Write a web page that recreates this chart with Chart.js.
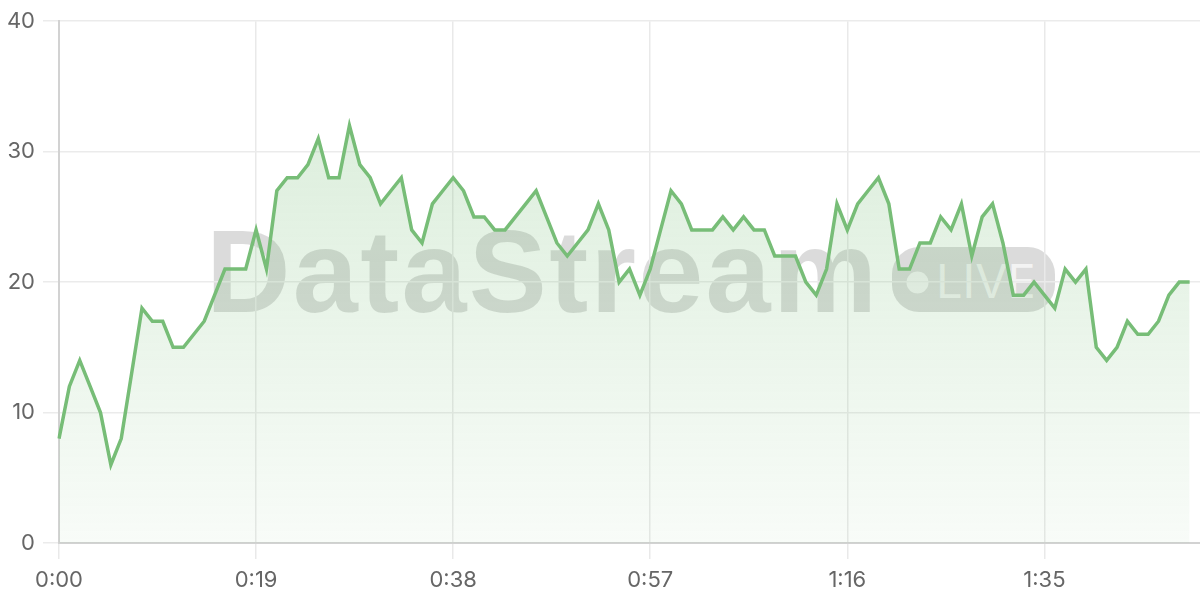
<!DOCTYPE html>
<html>
<head>
<meta charset="utf-8">
<script src="https://cdn.jsdelivr.net/npm/chart.js@4/dist/chart.umd.min.js"></script>
<style>
  html, body { margin: 0; padding: 0; background: #ffffff; }
  #wrap { position: relative; width: 1200px; height: 600px; }
  #wm { position: absolute; left: 0; top: 0; width: 1200px; height: 600px; }
  #c { position: absolute; left: 0; top: 0; }
</style>
</head>
<body>
<div id="wrap">
  <svg id="wm" width="1200" height="600" xmlns="http://www.w3.org/2000/svg">
    <text x="206" y="312" font-family="Liberation Sans, Arial, sans-serif" font-weight="bold" font-size="117" letter-spacing="2.3" fill="rgba(0,0,0,0.14)">DataStream</text>
    <rect x="892" y="247" width="163" height="65" rx="27" ry="27" fill="rgba(0,0,0,0.14)"/>
    <circle cx="917.5" cy="282.5" r="11" fill="rgba(255,255,255,0.7)"/>
    <text x="936" y="298" font-family="Inter, sans-serif" font-weight="400" font-size="47" fill="rgba(255,255,255,0.7)">LIVE</text>
  </svg>
  <canvas id="c" width="1200" height="600"></canvas>
</div>
<script>
// Elapsed seconds shown as m:ss on the x axis (0..110)
const timeLabels = [
  "0:00","0:01","0:02","0:03","0:04","0:05","0:06","0:07","0:08","0:09",
  "0:10","0:11","0:12","0:13","0:14","0:15","0:16","0:17","0:18","0:19",
  "0:20","0:21","0:22","0:23","0:24","0:25","0:26","0:27","0:28","0:29",
  "0:30","0:31","0:32","0:33","0:34","0:35","0:36","0:37","0:38","0:39",
  "0:40","0:41","0:42","0:43","0:44","0:45","0:46","0:47","0:48","0:49",
  "0:50","0:51","0:52","0:53","0:54","0:55","0:56","0:57","0:58","0:59",
  "1:00","1:01","1:02","1:03","1:04","1:05","1:06","1:07","1:08","1:09",
  "1:10","1:11","1:12","1:13","1:14","1:15","1:16","1:17","1:18","1:19",
  "1:20","1:21","1:22","1:23","1:24","1:25","1:26","1:27","1:28","1:29",
  "1:30","1:31","1:32","1:33","1:34","1:35","1:36","1:37","1:38","1:39",
  "1:40","1:41","1:42","1:43","1:44","1:45","1:46","1:47","1:48","1:49",
  "1:50"
];

// Series values, one per second
const streamValues = [
  8,12,14,12,10,6,8,13,18,17,
  17,15,15,16,17,19,21,21,21,24,
  21,27,28,28,29,31,28,28,32,29,
  28,26,27,28,24,23,26,27,28,27,
  25,25,24,24,25,26,27,25,23,22,
  23,24,26,24,20,21,19,21,24,27,
  26,24,24,24,25,24,25,24,24,22,
  22,22,20,19,21,26,24,26,27,28,
  26,21,21,23,23,25,24,26,22,25,
  26,23,19,19,20,19,18,21,20,21,
  15,14,15,17,16,16,17,19,20,20
];

const xTickEvery = 19;
const yTicks = { min: 0, max: 40, step: 10 };

const lineColor = '#77bd77';

function fillGradient(context) {
  const chart = context.chart;
  const area = chart.chartArea;
  if (!area) return 'rgba(119,189,119,0.15)';
  const g = chart.ctx.createLinearGradient(0, area.top, 0, area.bottom);
  g.addColorStop(0, 'rgba(119,189,119,0.30)');
  g.addColorStop(1, 'rgba(119,189,119,0.05)');
  return g;
}

new Chart(document.getElementById('c'), {
  type: 'line',
  data: {
    labels: timeLabels,
    datasets: [{
      data: streamValues,
      borderColor: lineColor,
      borderWidth: 3.5,
      backgroundColor: fillGradient,
      fill: 'origin',
      tension: 0,
      pointRadius: 0,
      pointHoverRadius: 0
    }]
  },
  options: {
    responsive: false,
    animation: false,
    layout: { padding: { top: 20, right: 0, bottom: 0, left: 0 } },
    plugins: { legend: { display: false }, tooltip: { enabled: false } },
    scales: {
      x: {
        type: 'category',
        afterFit: (axis) => { axis.height = 57; },
        grid: { color: '#e9e9e9', lineWidth: 1.5, tickLength: 16, drawOnChartArea: true },
        border: { color: '#d2d2d2', width: 2 },
        ticks: {
          autoSkip: false,
          maxRotation: 0,
          padding: 8,
          color: '#666666',
          font: { family: 'Inter, sans-serif', size: 22 },
          callback: function (val, index) {
            return index % xTickEvery === 0 ? this.getLabelForValue(val) : null;
          }
        }
      },
      y: {
        min: yTicks.min,
        max: yTicks.max,
        afterFit: (axis) => { axis.width = 59; },
        grid: { color: '#ebebeb', lineWidth: 1.5, tickLength: 16 },
        border: { color: '#d2d2d2', width: 2 },
        ticks: {
          stepSize: yTicks.step,
          padding: 8,
          color: '#666666',
          font: { family: 'Inter, sans-serif', size: 22 }
        }
      }
    }
  }
});
</script>
</body>
</html>
